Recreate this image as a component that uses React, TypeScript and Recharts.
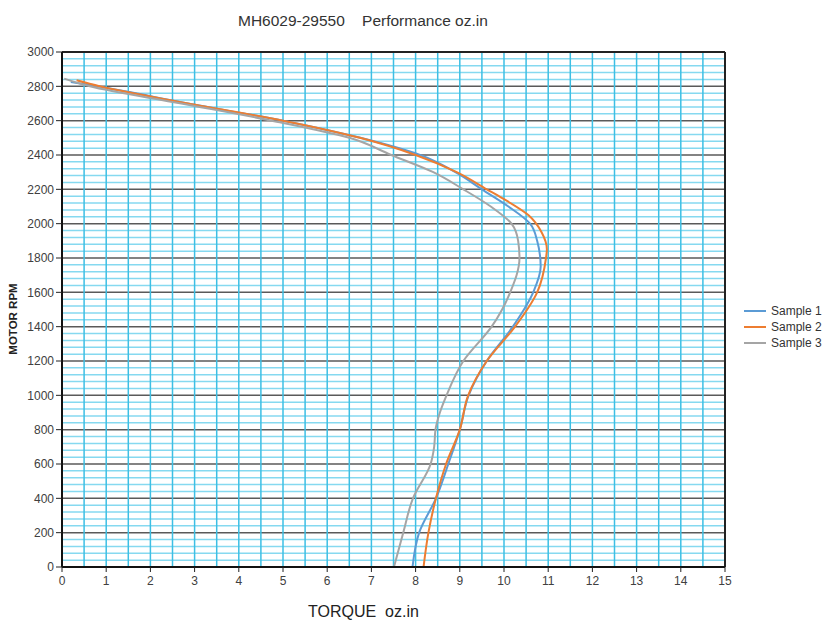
import {
  LineChart,
  Line,
  XAxis,
  YAxis,
  CartesianGrid,
  ReferenceLine,
  Legend,
} from 'recharts'

// torque (oz.in) at each motor rpm
const sample1Rpm = [0, 200, 400, 600, 800, 1000, 1200, 1400, 1600, 1750, 1900, 2000, 2100, 2200, 2300, 2400, 2500, 2600, 2700, 2800, 2825]
const sample1Torque = [7.93, 8.08, 8.46, 8.74, 9.0, 9.2, 9.61, 10.2, 10.66, 10.83, 10.75, 10.59, 10.1, 9.5, 8.9, 8.1, 6.75, 5.0, 2.85, 0.8, 0.2]

const sample2Rpm = [0, 200, 400, 600, 800, 1000, 1200, 1400, 1600, 1800, 1850, 1950, 2050, 2150, 2200, 2300, 2400, 2500, 2600, 2700, 2800, 2835]
const sample2Torque = [8.18, 8.29, 8.46, 8.69, 9.0, 9.19, 9.61, 10.25, 10.75, 10.95, 10.97, 10.85, 10.55, 9.95, 9.61, 8.93, 8.0, 6.74, 5.0, 2.85, 0.85, 0.33]

const sample3Rpm = [0, 200, 400, 600, 700, 800, 900, 1000, 1200, 1400, 1600, 1800, 1900, 2000, 2100, 2200, 2300, 2400, 2500, 2600, 2700, 2800, 2845]
const sample3Torque = [7.51, 7.72, 7.94, 8.34, 8.42, 8.45, 8.55, 8.7, 9.08, 9.72, 10.14, 10.35, 10.32, 10.17, 9.7, 9.08, 8.4, 7.45, 6.5, 4.75, 2.7, 0.63, 0.05]

// labelled ticks: torque every 1 oz.in, rpm every 200
const torqueLabelStep = 1
const rpmLabelStep = 200

// graph-paper lines: every 0.5 oz.in and every 40 rpm
const torqueGridTicks = Array.from({ length: 31 }, (_, i) => i * 0.5)
const rpmGridTicks = Array.from({ length: 76 }, (_, i) => i * 40)

const toRows = (rpm: number[], torque: number[]) =>
  rpm.map((r, i) => ({ rpm: r, torque: torque[i] }))

const series = [
  { name: 'Sample 1', color: '#5b9bd5', data: toRows(sample1Rpm, sample1Torque) },
  { name: 'Sample 2', color: '#ed7d31', data: toRows(sample2Rpm, sample2Torque) },
  { name: 'Sample 3', color: '#a5a5a5', data: toRows(sample3Rpm, sample3Torque) },
]

const font = '"Liberation Sans", Arial, sans-serif'

const hLine = (p: any) => {
  const major = rpmGridTicks[p.index] % rpmLabelStep === 0
  return (
    <line
      key={p.key}
      x1={p.x1}
      y1={p.y1}
      x2={p.x2}
      y2={p.y2}
      stroke={major ? '#5a5a5a' : '#86d9f0'}
      strokeWidth={1.5}
    />
  )
}
const vLine = (p: any) => (
  <line key={p.key} x1={p.x1} y1={p.y1} x2={p.x2} y2={p.y2} stroke="#3dbfe4" strokeWidth={1.5} />
)

const XTick = ({ x, y, payload }: any) => {
  if (payload.value % torqueLabelStep !== 0) return <g />
  return (
    <g>
      <line x1={x} x2={x} y1={y - 9} y2={y - 4} stroke="#222" />
      <text x={x} y={y} dy="0.71em" textAnchor="middle" fill="#404040" fontSize={12}>
        {payload.value}
      </text>
    </g>
  )
}

const YTick = ({ x, y, payload }: any) => {
  if (payload.value % rpmLabelStep !== 0) return <g />
  return (
    <g>
      <line x1={x + 2} x2={x + 8} y1={y} y2={y} stroke="#222" />
      <text x={x} y={y} dy="0.355em" textAnchor="end" fill="#404040" fontSize={12}>
        {payload.value}
      </text>
    </g>
  )
}

const renderLegend = (props: any) => (
  <div style={{ fontFamily: font }}>
    {(props.payload || []).map((item: any) => (
      <div key={item.value} style={{ display: 'flex', alignItems: 'center', height: 16, whiteSpace: 'nowrap' }}>
        <svg width={22} height={4} style={{ flex: 'none' }}>
          <line x1={0} y1={2} x2={22} y2={2} stroke={item.color} strokeWidth={2} />
        </svg>
        <span style={{ marginLeft: 5, fontSize: 12, color: '#333' }}>{item.value}</span>
      </div>
    ))}
  </div>
)

export default function App() {
  return (
    <div
      style={{
        position: 'relative',
        margin: '-8px 0 0 -8px',
        width: 830,
        height: 640,
        overflow: 'hidden',
        fontFamily: font,
        background: '#fff',
      }}
    >
      <div
        style={{
          position: 'absolute',
          left: 238,
          top: 12,
          fontSize: 15.5,
          lineHeight: '18px',
          color: '#333',
          whiteSpace: 'pre',
        }}
      >
        {'MH6029-29550    Performance oz.in'}
      </div>
      <LineChart
        width={830}
        height={640}
        layout="vertical"
        margin={{ top: 52, right: 105, bottom: 43, left: 18 }}
      >
        <CartesianGrid horizontal={hLine} vertical={vLine} />
        <XAxis
          type="number"
          dataKey="torque"
          domain={[0, 15]}
          ticks={torqueGridTicks}
          interval={0}
          allowDataOverflow
          height={30}
          tickSize={5}
          tickMargin={4}
          axisLine={{ stroke: '#111', strokeWidth: 2 }}
          tickLine={false}
          tick={<XTick />}
        />
        <YAxis
          type="number"
          dataKey="rpm"
          domain={[0, 3000]}
          ticks={rpmGridTicks}
          interval={0}
          allowDataOverflow
          reversed
          width={44}
          tickSize={6}
          tickMargin={2}
          axisLine={{ stroke: '#111', strokeWidth: 2 }}
          tickLine={false}
          tick={<YTick />}
        />
        <ReferenceLine y={3000} stroke="#222" strokeWidth={2} />
        <ReferenceLine x={15} stroke="#222" strokeWidth={2} />
        {series.map((s) => (
          <Line
            key={s.name}
            name={s.name}
            data={s.data}
            dataKey="torque"
            type="monotone"
            stroke={s.color}
            strokeWidth={2}
            dot={false}
            isAnimationActive={false}
          />
        ))}
        <Legend
          layout="horizontal"
          align="center"
          verticalAlign="middle"
          wrapperStyle={{ left: 744, top: 303, width: 80 }}
          content={renderLegend}
        />
      </LineChart>
      <div
        style={{
          position: 'absolute',
          left: 308,
          top: 603,
          fontSize: 16,
          lineHeight: '18px',
          color: '#222',
          whiteSpace: 'pre',
        }}
      >
        {'TORQUE  oz.in'}
      </div>
      <div
        style={{
          position: 'absolute',
          left: -37,
          top: 312,
          width: 100,
          height: 14,
          lineHeight: '14px',
          fontSize: 11.5,
          fontWeight: 'bold',
          color: '#222',
          textAlign: 'center',
          transform: 'rotate(-90deg)',
          zIndex: 2,
        }}
      >
        MOTOR RPM
      </div>
    </div>
  )
}
